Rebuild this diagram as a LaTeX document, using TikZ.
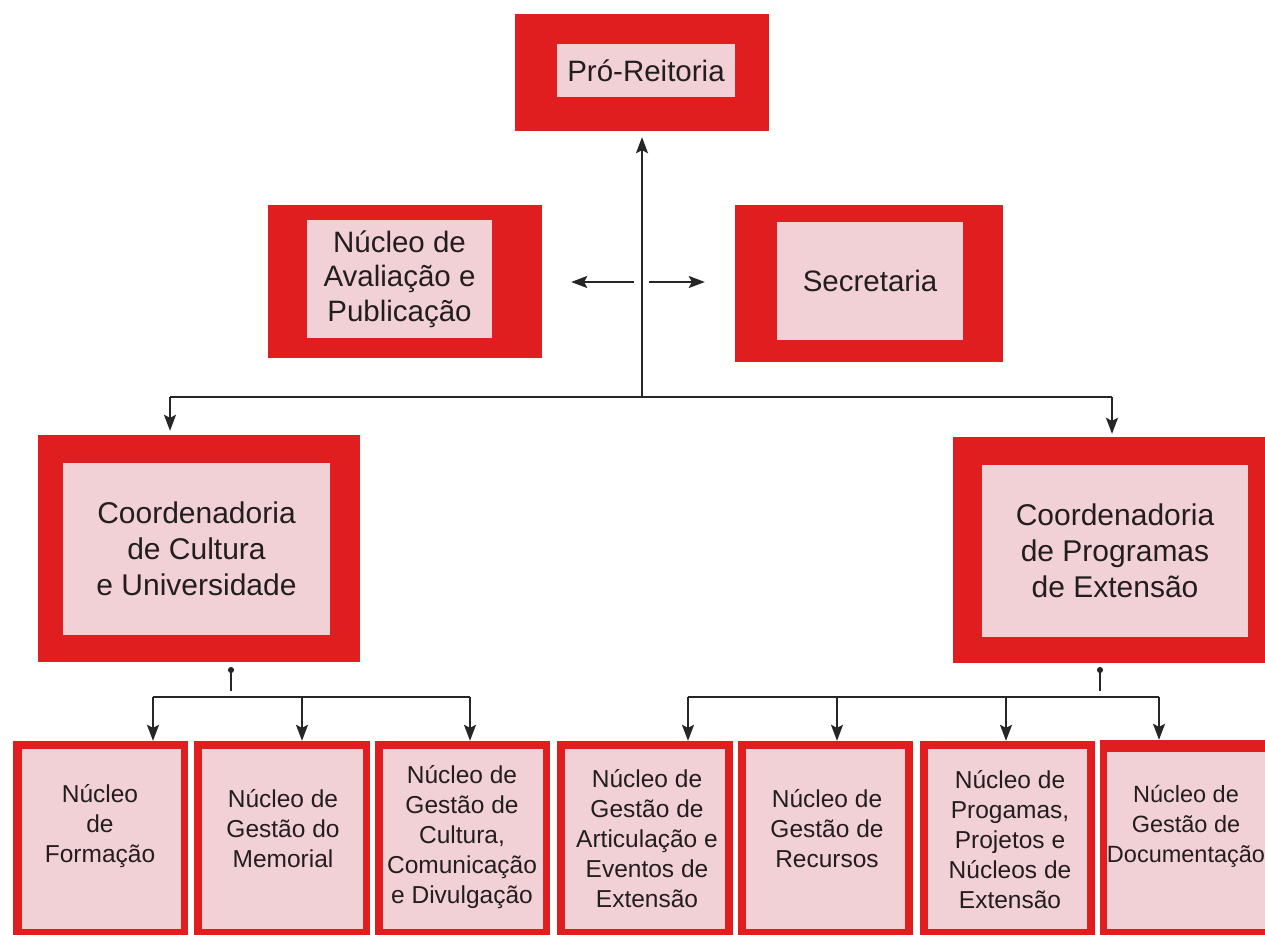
\documentclass[tikz,border=0pt]{standalone}
\usepackage{fontspec}
\setmainfont{Liberation Sans}
\usetikzlibrary{arrows.meta}

\definecolor{boxred}{RGB}{224,30,32}
\definecolor{boxpink}{RGB}{242,209,214}
\definecolor{ink}{RGB}{35,30,30}

\begin{document}
\begin{tikzpicture}[x = 1pt, y = -1pt,
                    frame/.style = {rectangle, fill = boxred, inner sep = 0pt},
                    pane/.style = {rectangle, fill = boxpink, inner sep = 0pt, text = ink, align = center,
                                   font = \fontsize{29.5}{34.5}\selectfont},
                    coord/.style = {pane, font = \fontsize{30}{36}\selectfont},
                    unit/.style = {text = ink, align = center, inner sep = 0pt,
                                   font = \fontsize{24.5}{30}\selectfont},
                    link/.style = {line width = 1.6pt, draw = black!85},
                    arr/.style = {link, -{Stealth[length = 16pt, width = 12pt, inset = 3pt]}},
                    stub/.style = {link, {Circle[length = 6pt]}-}]
  \useasboundingbox (0, 0) rectangle (1265, 934);
  \fill [white] (0, 0) rectangle (1265, 934);
  \clip (0, 0) rectangle (1265, 934);

  % top level
  \node [frame, minimum width = 254pt, minimum height = 117pt] (pro) at (642, 72.5) {};
  \node [pane, minimum width = 178pt, minimum height = 53pt] (proin) at (646, 70.5) {Pró-Reitoria};

  \node [frame, minimum width = 274pt, minimum height = 153pt] (aval) at (405, 281.5) {};
  \node [pane, minimum width = 185pt, minimum height = 118pt] (avalin) at (399.5, 279)
        {Núcleo de\\Avaliação e\\Publicação};

  \node [frame, minimum width = 268pt, minimum height = 157pt] (sec) at (869, 283.5) {};
  \node [pane, minimum width = 186pt, minimum height = 118pt] (secin) at (870, 281) {Secretaria};

  % coordenadorias
  \node [frame, minimum width = 322pt, minimum height = 227pt] (cult) at (199, 548.5) {};
  \node [coord, minimum width = 267pt, minimum height = 172pt] (cultin) at (196.5, 549)
        {Coordenadoria\\de Cultura\\e Universidade};

  \node [frame, minimum width = 312pt, minimum height = 226pt] (prog) at (1109, 550) {};
  \node [coord, minimum width = 266pt, minimum height = 172pt] (progin) at (1115, 551)
        {Coordenadoria\\de Programas\\de Extensão};

  % nucleos
  \node [frame, minimum width = 175pt, minimum height = 199pt] (n1) at (100.5, 840.5) {};
  \node [pane, minimum width = 159pt, minimum height = 180pt] (n1in) at (101.5, 839) {};
  \node [unit] (n1txt) at (100, 826) {Núcleo\\de\\Formação};

  \node [frame, minimum width = 176pt, minimum height = 199pt] (n2) at (282, 840.5) {};
  \node [pane, minimum width = 161pt, minimum height = 180pt] (n2in) at (282.5, 839) {};
  \node [unit] (n2txt) at (283, 829) {Núcleo de\\Gestão do\\Memorial};

  \node [frame, minimum width = 175pt, minimum height = 199pt] (n3) at (462.5, 840.5) {};
  \node [pane, minimum width = 160pt, minimum height = 180pt] (n3in) at (463, 839) {};
  \node [unit] (n3txt) at (462, 837) {Núcleo de\\Gestão de\\Cultura,\\Comunicação\\e Divulgação};

  \node [frame, minimum width = 176pt, minimum height = 199pt] (n4) at (645, 840.5) {};
  \node [pane, minimum width = 160pt, minimum height = 180pt] (n4in) at (645, 839) {};
  \node [unit] (n4txt) at (647, 839) {Núcleo de\\Gestão de\\Articulação e\\Eventos de\\Extensão};

  \node [frame, minimum width = 175pt, minimum height = 199pt] (n5) at (825.5, 840.5) {};
  \node [pane, minimum width = 159pt, minimum height = 180pt] (n5in) at (825.5, 839) {};
  \node [unit] (n5txt) at (827, 829) {Núcleo de\\Gestão de\\Recursos};

  \node [frame, minimum width = 175pt, minimum height = 199pt] (n6) at (1007.5, 840.5) {};
  \node [pane, minimum width = 159pt, minimum height = 180pt] (n6in) at (1007.5, 839) {};
  \node [unit] (n6txt) at (1010, 840) {Núcleo de\\Progamas,\\Projetos e\\Núcleos de\\Extensão};

  \node [frame, minimum width = 175pt, minimum height = 200pt] (n7) at (1187.5, 840) {};
  \node [pane, minimum width = 168pt, minimum height = 177pt] (n7in) at (1191, 840.5) {};
  \node [unit, font = \fontsize{23.5}{30}\selectfont] (n7txt) at (1186, 826)
        {Núcleo de\\Gestão de\\Documentação};

  % connectors
  \coordinate (hub) at (642, 397);
  \coordinate (mid) at (642, 282);
  \coordinate (hubl) at (170, 397);
  \coordinate (hubr) at (1112, 397);

  \draw [arr, shorten >= 6pt] (hub) -- (pro);
  \draw [arr, shorten <= 8pt, shorten >= 29pt] (mid) -- (aval.east |- mid);
  \draw [arr, shorten <= 7pt, shorten >= 30pt] (mid) -- (sec.west |- mid);
  \draw [link] (hubl) -- (hubr);
  \draw [arr, shorten >= 4pt] (hubl) -- (cult.north -| hubl);
  \draw [arr, shorten >= 3pt] (hubr) -- (prog.north -| hubr);

  \coordinate (cultdot) at (231, 667);
  \coordinate (cb1) at (153, 697);
  \coordinate (cb2) at (302, 697);
  \coordinate (cb3) at (470, 697);
  \draw [stub] (cultdot) -- ++(0, 24);
  \draw [link] (cb1) -- (cb3);
  \foreach \i in {1, 2, 3}
    \draw [arr] (cb\i) -- (n\i.north -| cb\i);

  \coordinate (progdot) at (1100, 667);
  \coordinate (pb4) at (688, 697);
  \coordinate (pb5) at (837, 697);
  \coordinate (pb6) at (1006, 697);
  \coordinate (pb7) at (1159, 697);
  \draw [stub] (progdot) -- ++(0, 24);
  \draw [link] (pb4) -- (pb7);
  \foreach \i in {4, 5, 6, 7}
    \draw [arr] (pb\i) -- (n\i.north -| pb\i);
\end{tikzpicture}
\end{document}
